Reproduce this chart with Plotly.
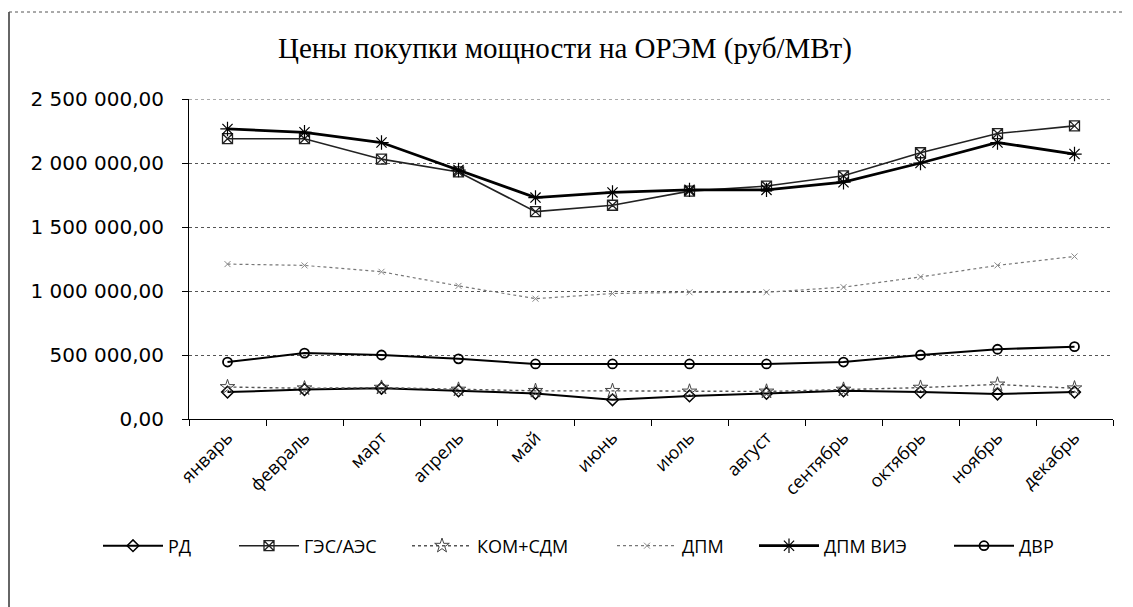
import plotly.graph_objects as go

months = ["январь", "февраль", "март", "апрель", "май", "июнь",
          "июль", "август", "сентябрь", "октябрь", "ноябрь", "декабрь"]

rd = [210000, 230000, 240000, 220000, 200000, 150000, 180000, 200000, 220000, 210000, 195000, 210000]
ges_aes = [2190000, 2190000, 2030000, 1930000, 1620000, 1670000, 1780000, 1820000, 1900000, 2080000, 2230000, 2290000]
kom_sdm = [250000, 240000, 245000, 230000, 220000, 220000, 215000, 215000, 230000, 245000, 270000, 240000]
dpm = [1210000, 1200000, 1150000, 1040000, 940000, 980000, 990000, 990000, 1030000, 1110000, 1200000, 1270000]
dpm_vie = [2266000, 2240000, 2160000, 1945000, 1730000, 1770000, 1790000, 1790000, 1850000, 2000000, 2160000, 2070000]
dvr = [445000, 515000, 500000, 470000, 430000, 430000, 430000, 430000, 445000, 500000, 545000, 565000]

y_ticks = [0, 500000, 1000000, 1500000, 2000000, 2500000]
y_labels = ["0,00", "500 000,00", "1 000 000,00", "1 500 000,00", "2 000 000,00", "2 500 000,00"]

x = list(range(len(months)))

# page geometry (the page has an 8px body margin)
W, H = 1125, 599
PL, PT, PW, PH = 189, 99, 924, 320   # plot area in page pixels


def px(page_x):
    return (page_x - PL) / PW


def py(page_y):
    return (PT + PH - page_y) / PH


series = [
    ("РД", rd, dict(color="black", width=2, dash="solid"), dict(symbol="diamond-open", size=9, color="black", line=dict(width=1.5))),
    ("ГЭС/АЭС", ges_aes, dict(color="#222222", width=1.6, dash="solid"), dict(symbol="square-x-open", size=10, color="#222222", line=dict(width=1.3))),
    ("КОМ+СДМ", kom_sdm, dict(color="#555555", width=1.4, dash="dot"), dict(symbol="star-open", size=11, color="#444444", line=dict(width=1))),
    ("ДПМ", dpm, dict(color="#777777", width=1.2, dash="dot"), dict(symbol="x-thin-open", size=6, color="#888888", line=dict(width=1))),
    ("ДПМ ВИЭ", dpm_vie, dict(color="black", width=2.8, dash="solid"), dict(symbol="asterisk-open", size=12, color="black", line=dict(width=1.2))),
    ("ДВР", dvr, dict(color="black", width=2, dash="solid"), dict(symbol="circle-open", size=9, color="black", line=dict(width=1.8))),
]

legend_starts = [98, 234, 407, 612, 754, 949]

fig = go.Figure()
legend_layout = {}
for i, ((name, vals, ln, mk), lx) in enumerate(zip(series, legend_starts)):
    key = "legend" if i == 0 else f"legend{i + 1}"
    fig.add_trace(go.Scatter(x=x, y=vals, name=name, mode="lines+markers", line=ln, marker=mk,
                             legend=key))
    legend_layout[key] = dict(orientation="h", x=px(lx), xanchor="left", y=py(546), yanchor="middle",
                              font=dict(family="Open Sans", size=18, color="black"),
                              itemwidth=60, bgcolor="rgba(0,0,0,0)")

fig.update_layout(
    width=W, height=H,
    margin=dict(l=PL - 8, r=W - (PL - 8) - PW, t=PT - 8, b=H - (PT - 8) - PH),
    paper_bgcolor="white", plot_bgcolor="white",
    title=dict(text="Цены покупки мощности на ОРЭМ (руб/МВт)", x=px(565), xref="paper", xanchor="center",
               y=1 - 40 / H, yanchor="middle",
               font=dict(family="Liberation Serif", size=29, color="black")),
    font=dict(family="Open Sans", color="black"),
    showlegend=True,
    **legend_layout,
)

fig.update_xaxes(
    range=[-0.5, 11.5], tickmode="array", tickvals=x, ticktext=months,
    tickangle=-45, ticks="", showgrid=False, zeroline=False,
    showline=True, linecolor="black", linewidth=1,
    tickfont=dict(family="Open Sans", size=18, color="black"),
    minor=dict(tickmode="array", tickvals=[i - 0.5 for i in range(13)], ticks="outside", ticklen=6, tickcolor="black", showgrid=False),
)
fig.update_yaxes(
    range=[0, 2500000], tickmode="array", tickvals=y_ticks, ticktext=y_labels,
    showgrid=True, gridcolor="#555555", griddash="dot", gridwidth=1,
    zeroline=False, showline=True, linecolor="black", linewidth=1,
    ticks="outside", ticklen=6, tickcolor="black", ticklabelstandoff=14,
    tickfont=dict(family="DejaVu Sans", size=20, color="black"),
)

# top gridline at the edge of the range
fig.add_shape(type="line", xref="paper", yref="y", x0=0, x1=1, y0=y_ticks[-1], y1=y_ticks[-1],
              line=dict(color="#555555", width=1, dash="dot"))

# outer chart frame (left edge solid, top edge dotted)
fig.add_shape(type="line", xref="paper", yref="paper",
              x0=px(9), x1=px(9), y0=py(607), y1=py(12),
              line=dict(color="#333333", width=1.5))
fig.add_shape(type="line", xref="paper", yref="paper",
              x0=px(9), x1=px(1133), y0=py(12), y1=py(12),
              line=dict(color="#555555", width=1, dash="dot"))

fig.write_html("out.html")
